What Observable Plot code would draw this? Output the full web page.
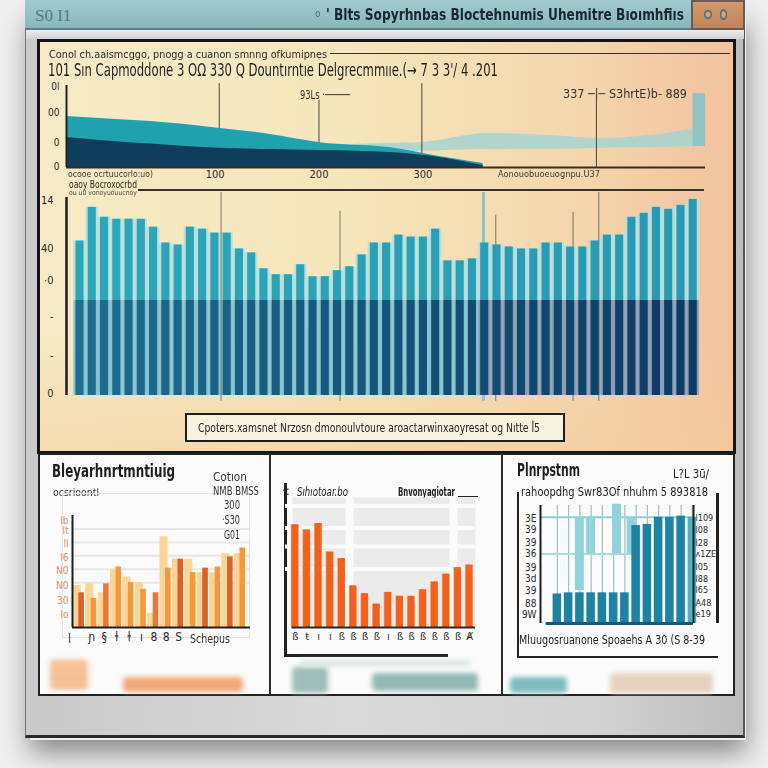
<!DOCTYPE html>
<html><head><meta charset="utf-8">
<script src="https://cdn.jsdelivr.net/npm/d3@7"></script>
<script src="https://cdn.jsdelivr.net/npm/@observablehq/plot@0.6"></script>
<style>
html,body{margin:0;padding:0;width:768px;height:768px;overflow:hidden;background:#efefef;}
body{position:relative;font-family:"Liberation Sans Narrow","DejaVu Sans Condensed","Liberation Sans",sans-serif;color:#222;}
.a{position:absolute;}
.t{position:absolute;white-space:nowrap;line-height:1;}
.blob{position:absolute;filter:blur(2.5px);border-radius:4px;}
</style></head><body>
<script>
// ---------- DATA ----------
const windowTitle = "◦ ' Blts Sopyrhnbas Bloctehnumis Uhemitre Bıoımhfiıs";
const windowTag = "S0 I1";
const headerText = "Conol ch.aaismcggo, pnogg a cuanon smnng ofkumipnes";
const mainTitle = "101  Sın Capmoddone 3 OΩ 330 Q Dountırntıe  Delgrecmmııe.(→ 7 3 3'/ 4 .201";

// top area chart
const areaX    = [-43, -11, 38, 105, 153, 201, 268, 316, 358];
const tealTop  = [18.7, 17.9, 16.8, 14.3, 12.1, 9.1, 7.3, 4.0, 1.5];
const navyTop  = [11.0, 9.9, 8.6, 7.0, 6.6, 6.2, 5.5, 3.7, 0.7];
const bandX    = [233, 259, 297, 364, 422, 470, 518, 562];
const bandLow  = [6.2, 5.5, 5.9, 6.6, 6.6, 7.0, 7.3, 7.7];
const bandHigh = [8.4, 8.8, 9.1, 12.4, 11.7, 10.6, 11.7, 14.3];
const blockX1 = [560], blockX2 = [572], blockY1 = [7.7], blockY2 = [27];
const areaRuleX = [104, 200, 299, 467];
const areaRuleTop = [30.7, 24.5, 30.7, 26.3];
const areaXTicks = [100, 200, 300];
const areaXLabels = ["100", "200", "300"];
const areaYTicks = [0.3, 9, 20, 29.6];
const areaYLabels = ["0", "0", "00", "0l"];
const noteLeft = "93Ls ·─────";
const noteRight = "337 ─|─ S3hrtE)b‑ 889";
const axisNoteLeft = "ocooe ocrtuucorlo:uo)";
const axisNoteRight = "Aonouobuoeuognpu.U37";

// main bar chart
const barHeader1 = "oaoy Bocroxocrbd";
const barHeader2 = "ou u0 vonoyuouucnoy";
const mainBars = [78,95,90,89,89,89,85,77,76,85,84,82,82,74,72,64,61,61,66,60,60,63,65,71,77,77,81,80,80,84,68,68,69,77,76,75,74,74,77,77,75,75,78,81,81,90,92,95,94,96,99];
const barBase = 48;
const barLineX = [11.5, 21.2, 33.9, 40.2, 42.3];
const barLineTop = [102.5, 93, 91, 92.5, 102.5];
const spikeX = [32.9];
const spikeTop = [102.5];
const barYTicks = [1, 20, 40, 58, 74, 98.5];
const barYLabels = ["0", "-", "-", "·0", "40", "14"];
const captionText = "Cpoters.xamsnet Nrzosn dmonoulvtoure aroactarwinxaoyresat og  Nıtte ꟾ5";

// panel 1
const p1Title = "Bleyarhnrtmntiuig";
const p1Sub = "ocsrioontl";
const p1Side = ["Cotıon", "NMB BMSS", "300", "·S30", "G01"];
const p1Pale   = [37.5, 39, 31, 51, 45, 40, 12.5, 81, 61, 61, 49, 49, 66, 66];
const p1Strong = [31, 26, 39, 54, 40, 34, 31, 53, 61, 49, 53, 54, 63, 71];
const p1Tone   = ["rust","orange","red","orange","orange","orange","red","orange","rust","orange","rust","orange","rust","orange"];
const p1YTicks = [11.6, 24, 37.5, 51, 62.5, 75, 86.6, 95.5];
const p1YLabels = ["lo", "30", "N0", "N0", "l6", "ll", "lt", "lb"];
const p1XTicks = [1, 2, 3, 4, 5, 6, 7, 8];
const p1XLabels = ["ɲ", "§", "ɫ", "ɫ", "ı", "8", "8", "S"];
const p1Tail = "Schepus";
const p1Grid = [40, 52, 64, 76, 88];

// panel 2
const p2Title = "Sıhıotoar.bo";
const p2Right = "Bnvonyagiotar";
const p2Vals = [79, 75, 80, 58, 53, 32, 26, 18, 27, 24, 24, 29, 35, 41, 46, 48];
const p2Labels = ["ß","ŧ","ı","ı","ß","ß","ß","ß","ı","ß","ß","ß","ß","ß","ß","Ⱥ"];
const p2GridY = [93.5, 76.5, 62.3, 45];
const p2GridX = [4.65, 13.6];

// panel 3
const p3Title = "Plnrpstnm";
const p3Right = "L?L 3ū/";
const p3Sub = "rahoopdhg  Swr83Of nhuhm   5 893818";
const p3Foot = "Mluugosruanone  Spoaehs  A 30 (S 8-39";
const p3Vals = [25, 26, 26, 26, 26, 26, 26, 83, 84, 90, 90, 91, 90];
const p3PaleX = [2, 3, 5.3, 6.6];
const p3PaleY1 = [28, 59, 59, 59];
const p3PaleY2 = [90, 90, 101, 90];
const p3Guides = [90, 59];
const p3YTicks = [89, 79, 68, 59, 47.5, 38, 28, 17, 7.6];
const p3LeftLabels = ["3E", "39", "39", "36", "39", "3d", "39", "88", "9W"];
const p3RightLabels = ["l109", "l08", "l28", "ʌ1ZE", "l05", "l88", "l65", "A48", "e19"];

// ---------- HELPERS ----------
const FONT = '"Liberation Sans Narrow","DejaVu Sans Condensed","Liberation Sans",sans-serif';
function el(tag, cls, style, text, fitW) {
  const e = document.createElement(tag);
  if (cls) e.className = cls;
  if (style) e.setAttribute("style", style);
  if (text != null) e.textContent = text;
  document.body.appendChild(e);
  if (fitW) {
    const w = e.getBoundingClientRect().width;
    if (w > 0) {
      e.style.transformOrigin = "left center";
      e.style.transform = `scaleX(${fitW / w})`;
    }
  }
  return e;
}
function place(node, left, top) {
  const d = el("div", "a", `left:${left}px;top:${top}px;`);
  d.appendChild(node);
  return d;
}
function lab(ticks, labels) {
  const m = new Map(ticks.map((t, i) => [t, labels[i]]));
  return d => m.has(d) ? m.get(d) : "";
}
const baseStyle = {background: "transparent", fontFamily: FONT, overflow: "visible", color: "#2a2a2a"};

// ---------- WINDOW FRAME ----------
el("div", "a", "left:30px;top:12px;width:716px;height:728px;box-shadow:0 12px 26px rgba(0,0,0,0.45);");
el("div", "a", "left:25px;top:0;width:720px;height:738px;box-sizing:border-box;background:linear-gradient(90deg,#c9c9c9,#dadada 45%,#d2d2d2 80%,#bdbdbd);border-left:1px solid #777;border-right:2px solid #555;border-bottom:3px solid #2a2a2a;");
el("div", "a", "left:25px;top:0;width:666px;height:30px;box-sizing:border-box;background:linear-gradient(#a2cbce,#88b7bb);border-bottom:2px solid #58808a;");
el("div", "t", "left:35px;top:7px;font-family:'Liberation Serif','DejaVu Serif',serif;font-size:17px;color:#4d7c86;", windowTag);
el("div", "t", "left:314px;top:7px;font-size:16px;font-weight:bold;color:#1a2633;", windowTitle, 370);
el("div", "a", "left:691px;top:0;width:54px;height:30px;box-sizing:border-box;background:linear-gradient(#d39a6c,#bf8458);border:2px solid #6b5a52;");
el("div", "a", "left:704px;top:10px;width:8px;height:9px;border-radius:50%;background:radial-gradient(#f0a050 30%,#2c6fa8 60%);");
el("div", "a", "left:720px;top:9px;width:7px;height:11px;border-radius:50%;background:radial-gradient(#f0a050 30%,#2c6fa8 60%);");
el("div", "a", "left:26px;top:30px;width:718px;height:9px;background:linear-gradient(#ececec,#d2d2d2);");

// main panel
el("div", "a", "left:37px;top:39px;width:699px;height:415px;box-sizing:border-box;border:3px solid #151515;background:linear-gradient(90deg,#f6ebc6 0%,#f6e6bb 45%,#f4d6ad 78%,#f1c29e 100%);");
el("div", "a", "left:40px;top:330px;width:693px;height:121px;background:linear-gradient(rgba(245,215,170,0),rgba(243,205,160,0.55));");

el("div", "t", "left:49px;top:49px;font-size:11px;color:#2a2a2a;", headerText, 278);
el("div", "a", "left:330px;top:53px;width:400px;height:0;border-top:1.5px solid #3a3027;");
el("div", "t", "left:48px;top:62px;font-size:17px;color:#1e1e1e;", mainTitle, 450);
el("div", "t", "left:300px;top:89px;font-size:12px;color:#333;", noteLeft, 50);
el("div", "t", "left:563px;top:88px;font-size:12px;color:#333;", noteRight, 124);
el("div", "t", "left:68px;top:171px;font-size:8px;color:#3a3a3a;", axisNoteLeft, 85);
el("div", "t", "left:498px;top:170px;font-size:9px;color:#3a3a3a;", axisNoteRight, 102);

// ---------- AREA CHART ----------
const areaData = areaX.map((x, i) => ({x, teal: tealTop[i], navy: navyTop[i]}));
const bandData = bandX.map((x, i) => ({x, lo: bandLow[i], hi: bandHigh[i]}));
const blockData = blockX1.map((x1, i) => ({x1, x2: blockX2[i], y1: blockY1[i], y2: blockY2[i]}));
const areaRules = areaRuleX.map((x, i) => ({x, top: areaRuleTop[i]}));
const areaPlot = Plot.plot({
  width: 697, height: 105,
  marginLeft: 28, marginRight: 30, marginTop: 7, marginBottom: 16,
  x: {domain: [-43, 572], label: null},
  y: {domain: [0, 30], label: null},
  style: {...baseStyle, fontSize: "11px"},
  marks: [
    Plot.areaY(bandData, {x: "x", y1: "lo", y2: "hi", fill: "#a5d4d0", fillOpacity: 0.85, curve: "monotone-x"}),
    Plot.ruleX(areaRules, {x: "x", y1: 0, y2: "top", stroke: "#4a463c", strokeWidth: 1}),
    Plot.areaY(areaData, {x: "x", y: "teal", fill: "#1fa1ae", curve: "monotone-x"}),
    Plot.areaY(areaData, {x: "x", y: "navy", fill: "#0e3e5c", curve: "monotone-x"}),
    Plot.rect(blockData, {x1: "x1", x2: "x2", y1: "y1", y2: "y2", fill: "#8fc3c6"}),
    Plot.ruleY([0], {stroke: "#3b2d1e", strokeWidth: 2}),
    Plot.ruleX([-43], {y1: 0, y2: 30, stroke: "#222", strokeWidth: 2}),
    Plot.axisX({ticks: areaXTicks, tickFormat: lab(areaXTicks, areaXLabels), tickSize: 0, tickPadding: 3, fontSize: 11, label: null}),
    Plot.axisY({ticks: areaYTicks, tickFormat: lab(areaYTicks, areaYLabels), tickSize: 0, tickPadding: 7, fontSize: 10, label: null})
  ]
});
place(areaPlot, 38, 78);

// ---------- MAIN BAR CHART ----------
el("div", "t", "left:69px;top:180px;font-size:10px;color:#2a2a2a;", barHeader1, 68);
el("div", "t", "left:69px;top:190px;font-size:7px;color:#444;", barHeader2, 68);
el("div", "a", "left:138px;top:189px;width:566px;height:0;border-top:2px solid #3a3027;");
const barData = mainBars.map((v, i) => ({i, v}));
const navyScale = d3.interpolateRgb("#1f6d8f", "#0c3a64");
const tealScale = d3.interpolateRgb("#2ca7b9", "#2899b4");
const barLines = barLineX.map((x, i) => ({x, top: barLineTop[i]}));
const spikes = spikeX.map((x, i) => ({x, top: spikeTop[i]}));
const barPlot = Plot.plot({
  width: 697, height: 222,
  marginLeft: 28, marginRight: 30, marginTop: 5, marginBottom: 13,
  x: {domain: [-1.1, 51], axis: null, label: null},
  y: {domain: [0, 103], label: null},
  style: {...baseStyle, fontSize: "11px"},
  marks: [
    Plot.rectY(barData, {x1: d => d.i - 0.5, x2: d => d.i + 0.5, y1: barBase, y2: "v", fill: "#b3dfe0", fillOpacity: 0.9}),
    Plot.rectY(barData, {x1: d => d.i - 0.5, x2: d => d.i + 0.5, y1: 0, y2: barBase, fill: d => d.i < 33 ? "#82c3cf" : "#8b9db7"}),
    Plot.ruleX(barLines, {x: "x", y1: -3, y2: "top", stroke: "#5d5a50", strokeWidth: 1, strokeOpacity: 0.8}),
    Plot.ruleX(spikes, {x: "x", y1: -3, y2: "top", stroke: "#8cc6ca", strokeWidth: 3}),
    Plot.rectY(barData, {x1: d => d.i - 0.33, x2: d => d.i + 0.33, y1: barBase, y2: "v", fill: d => tealScale(d.i / 50)}),
    Plot.rectY(barData, {x1: d => d.i - 0.33, x2: d => d.i + 0.33, y1: 0, y2: barBase, fill: d => navyScale(d.i / 50)}),
    Plot.ruleX([-1.1], {y1: 0, y2: 100, stroke: "#1e1e1e", strokeWidth: 2.5}),
    Plot.axisY({ticks: barYTicks, tickFormat: lab(barYTicks, barYLabels), tickSize: 0, tickPadding: 13, fontSize: 11, label: null})
  ]
});
place(barPlot, 38, 186);

// caption box
el("div", "a", "left:185px;top:413px;width:380px;height:29px;box-sizing:border-box;border:2.5px solid #1e1e1e;background:#f8f3df;");
el("div", "t", "left:198px;top:421px;font-size:13px;color:#222;", captionText, 342);

// ---------- BOTTOM PANELS ----------
el("div", "a", "left:38px;top:453px;width:697px;height:243px;box-sizing:border-box;border:2px solid #222;background:#fbfbfb;");
el("div", "a", "left:269px;top:453px;width:2px;height:243px;background:#2a2a2a;");
el("div", "a", "left:501px;top:453px;width:2px;height:243px;background:#2a2a2a;");

// panel 1
el("div", "t", "left:52px;top:462px;font-size:18px;font-weight:bold;color:#1e1e1e;", p1Title, 123);
el("div", "t", "left:53px;top:487px;font-size:11px;color:#333;", p1Sub, 46);
el("div", "a", "left:62px;top:493px;width:188px;height:145px;box-sizing:border-box;border:1.5px solid #e4e4e4;");
const sideLeft = [213, 213, 224, 222, 224];
const sideTop = [471, 485, 499, 514, 529];
const sideW = [34, 46, 16, 18, 16];
p1Side.forEach((s, i) => el("div", "t", `left:${sideLeft[i]}px;top:${sideTop[i]}px;font-size:12px;color:#333;`, s, sideW[i]));
const p1Data = p1Pale.map((p, i) => ({i, p, s: p1Strong[i], tone: p1Tone[i]}));
const toneColor = {rust: "#d9622a", orange: "#f3993b", red: "#e8783a"};
const p1Plot = Plot.plot({
  width: 222, height: 145,
  marginLeft: 30, marginRight: 14, marginTop: 10, marginBottom: 23,
  x: {domain: [-0.56, 13.8], label: null},
  y: {domain: [0, 100], label: null},
  style: {...baseStyle, fontSize: "10px"},
  marks: [
    Plot.ruleY(p1Grid, {stroke: "#e6e6e6", strokeWidth: 2}),
    Plot.rectY(p1Data, {x1: d => d.i - 0.5, x2: d => d.i + 0.15, y1: 0, y2: "p", fill: "#fbd596"}),
    Plot.rectY(p1Data, {x1: d => d.i - 0.05, x2: d => d.i + 0.4, y1: 0, y2: "s", fill: d => toneColor[d.tone]}),
    Plot.ruleX([-0.56], {y1: 0, y2: 100, stroke: "#1e1e1e", strokeWidth: 2}),
    Plot.ruleY([0], {stroke: "#1e1e1e", strokeWidth: 2}),
    Plot.axisY({ticks: p1YTicks, tickFormat: lab(p1YTicks, p1YLabels), tickSize: 0, tickPadding: 4, fontSize: 10, fill: "#d98e6c", label: null}),
    Plot.axisX({ticks: p1XTicks, tickFormat: lab(p1XTicks, p1XLabels), tickSize: 0, tickPadding: 5, fontSize: 12, label: null})
  ]
});
place(p1Plot, 42, 505);
el("div", "t", "left:68px;top:633px;font-size:12px;color:#333;", "l");
el("div", "t", "left:190px;top:633px;font-size:12px;color:#333;", p1Tail, 40);
el("div", "blob", "left:50px;top:660px;width:38px;height:30px;background:repeating-linear-gradient(#f3b88a 0 5px,#f7d0ae 5px 8px);");
el("div", "blob", "left:123px;top:677px;width:120px;height:15px;background:#f0a978;");

// panel 2
el("div", "t", "left:282px;top:484px;font-size:13px;color:#222;", "·:");
el("div", "t", "left:297px;top:485px;font-size:13px;font-style:italic;color:#222;", p2Title, 51);
el("div", "t", "left:398px;top:485px;font-size:13px;font-weight:bold;color:#222;", p2Right, 57);
el("div", "a", "left:458px;top:496px;width:20px;height:0;border-top:1.5px solid #222;");
el("div", "a", "left:284px;top:483px;width:164px;height:174px;box-sizing:border-box;border-left:3px solid #222;border-bottom:3px solid #222;");
const p2Data = p2Vals.map((v, i) => ({i, v}));
const p2Plot = Plot.plot({
  width: 222, height: 165,
  marginLeft: 10, marginRight: 22, marginTop: 12, marginBottom: 23,
  x: {domain: [-0.86, 15.5], label: null},
  y: {domain: [0, 100], axis: null, label: null},
  style: {...baseStyle, fontSize: "11px"},
  marks: [
    Plot.frame({fill: "#ebebeb", stroke: "none", insetLeft: 7}),
    Plot.ruleY(p2GridY, {stroke: "#fbfbfb", strokeWidth: 4}),
    Plot.ruleX(p2GridX, {stroke: "#fbfbfb", strokeWidth: 8}),
    Plot.rectY(p2Data, {x1: d => d.i - 0.36, x2: d => d.i + 0.2, y1: 0, y2: "v", fill: "#f7a466"}),
    Plot.rectY(p2Data, {x1: d => d.i - 0.3, x2: d => d.i + 0.3, y1: 0, y2: "v", fill: "#f2601d"}),
    Plot.ruleY([0], {x1: -0.3, x2: 15.5, stroke: "#2a2a2a", strokeWidth: 2}),
    Plot.axisX({ticks: d3.range(16), tickFormat: i => p2Labels[i], tickSize: 0, tickPadding: 5, fontSize: 11, label: null})
  ]
});
place(p2Plot, 275, 485);
el("div", "blob", "left:292px;top:667px;width:36px;height:26px;background:#9fbdb9;");
el("div", "blob", "left:372px;top:673px;width:106px;height:18px;background:#93bab6;");
el("div", "blob", "left:300px;top:660px;width:170px;height:6px;background:#d8e4e2;");

// panel 3
el("div", "t", "left:517px;top:462px;font-size:17px;font-weight:bold;color:#1e1e1e;", p3Title, 63);
el("div", "t", "left:673px;top:467px;font-size:13px;color:#222;", p3Right, 36);
el("div", "t", "left:521px;top:486px;font-size:12px;color:#222;", p3Sub, 187);
el("div", "a", "left:517px;top:492px;width:201px;height:166px;box-sizing:border-box;border-left:2.5px solid #222;border-bottom:2.5px solid #222;");
el("div", "a", "left:716px;top:493px;width:2.5px;height:130px;background:#222;");
const p3Data = p3Vals.map((v, i) => ({i, v}));
const p3Pale = p3PaleX.map((x, i) => ({x, y1: p3PaleY1[i], y2: p3PaleY2[i]}));
const p3Plot = Plot.plot({
  width: 225, height: 140,
  marginLeft: 35, marginRight: 37, marginTop: 7, marginBottom: 15,
  x: {domain: [-1.5, 12.1], axis: null, label: null},
  y: {domain: [0, 100], label: null},
  style: {...baseStyle, fontSize: "10px"},
  marks: [
    Plot.ruleX(d3.range(13), {y1: 0, y2: 100, stroke: "#9dbfc6", strokeWidth: 1.2}),
    Plot.ruleY([p3Guides[0]], {x1: -1.5, x2: 12.1, stroke: "#8fd0d8", strokeWidth: 2}),
    Plot.ruleY([p3Guides[1]], {x1: -1.5, x2: 7, stroke: "#a6dbe0", strokeWidth: 2}),
    Plot.rect(p3Pale, {x1: d => d.x - 0.4, x2: d => d.x + 0.4, y1: "y1", y2: "y2", fill: "#92d2da"}),
    Plot.rectY(p3Data, {x1: d => d.i - 0.38, x2: d => d.i + 0.38, y1: 0, y2: "v", fill: d => d.i === 12 ? "#4eafc6" : "#1c84a2"}),
    Plot.ruleX([-1.5, 12.1], {y1: 0, y2: 100, stroke: "#1e1e1e", strokeWidth: 2}),
    Plot.ruleY([0], {x1: -1, x2: 12.1, stroke: "#19587a", strokeWidth: 3}),
    Plot.axisY({anchor: "left", ticks: p3YTicks, tickFormat: lab(p3YTicks, p3LeftLabels), tickSize: 0, tickPadding: 4, fontSize: 10, label: null}),
    Plot.axisY({anchor: "right", ticks: p3YTicks, tickFormat: lab(p3YTicks, p3RightLabels), tickSize: 0, tickPadding: 2, fontSize: 9, label: null})
  ]
});
place(p3Plot, 505, 498);
el("div", "t", "left:519px;top:633px;font-size:13px;color:#222;", p3Foot, 186);
el("div", "blob", "left:510px;top:677px;width:57px;height:16px;background:#7fbcbe;");
el("div", "blob", "left:610px;top:673px;width:103px;height:20px;background:#e6d3bd;");
</script>
</body></html>
